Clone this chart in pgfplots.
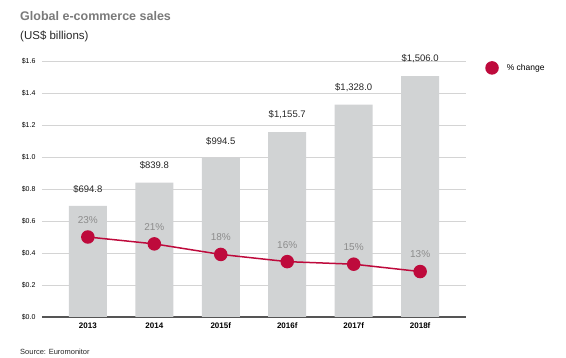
\documentclass[border=0pt]{standalone}
\usepackage{pgfplots}
\pgfplotsset{compat=1.18}
\usepackage{fontspec}
\setmainfont{Liberation Sans}
\definecolor{crim}{HTML}{BE0A3C}
\definecolor{bargray}{HTML}{D1D3D4}
\definecolor{titlegray}{HTML}{7A7A7A}
\definecolor{pctgray}{HTML}{8C8C8C}
\definecolor{gridgray}{HTML}{D4D4D4}
\definecolor{axisdark}{HTML}{555555}
\begin{document}
\begin{tikzpicture}[x=1pt,y=1pt]
\path (0,0) rectangle (566,358);
\node[anchor=base west, inner sep=0pt, font=\bfseries\fontsize{12.5}{14}\selectfont, text=titlegray] at (20,337) {Global e-commerce sales};
\node[anchor=base west, inner sep=0pt, font=\fontsize{11.5}{13}\selectfont, text=black!85] at (20,318) {(US\$ billions)};
\node[anchor=base west, inner sep=0pt, font=\fontsize{7.5}{9}\selectfont, text=black!85] at (20,3) {Source: Euromonitor};
\begin{axis}[
  at={(42pt,41pt)}, anchor=south west,
  scale only axis, width=424pt, height=256pt,
  xmin=-0.69, xmax=5.69, ymin=0, ymax=1.6,
  xtick={0,1,2,3,4,5},
  xticklabels={2013,2014,2015f,2016f,2017f,2018f},
  ytick={0,0.2,0.4,0.6,0.8,1.0,1.2,1.4,1.6},
  yticklabel={\$\pgfmathprintnumber[fixed,fixed zerofill,precision=1]{\tick}},
  /pgf/number format/assume math mode=true,
  major tick length=0pt,
  axis x line*=bottom, axis y line*=left,
  x axis line style={draw=axisdark, line width=1.5pt},
  y axis line style={draw=none},
  ymajorgrids, grid style={gridgray, line width=0.6pt},
  xticklabel style={font=\bfseries\fontsize{8}{9}\selectfont, yshift=-2pt},
  yticklabel style={font=\fontsize{7}{8}\selectfont, xshift=-3pt},
  legend style={at={(1.045,0.973)}, anchor=west, draw=none, fill=none, font=\fontsize{8.5}{10}\selectfont, inner sep=0pt},
  clip=false,
]
\addplot[ybar, bar width=38pt, fill=bargray, draw=none, forget plot,
  point meta=explicit symbolic,
  nodes near coords={\$\pgfplotspointmeta},
  every node near coord/.style={anchor=center, yshift=17pt, font=\fontsize{9.5}{11}\selectfont, text=black!85}]
  table[meta=lab] {
x y lab
0 0.6948 694.8
1 0.8398 839.8
2 0.9945 994.5
3 1.1557 1,155.7
4 1.3280 1,328.0
5 1.5060 1,506.0
};
\addplot[crim, line width=1.5pt, mark=*, mark size=6pt, mark options={fill=crim, draw=crim},
  point meta=explicit symbolic,
  nodes near coords={\pgfplotspointmeta\%},
  every node near coord/.style={anchor=center, yshift=17pt, font=\fontsize{10}{11}\selectfont, text=pctgray},
  legend image code/.code={\fill[crim] (0pt,0pt) circle (6pt);}]
  table[meta=lab] {
x y lab
0 0.500 23
1 0.457 21
2 0.391 18
3 0.346 16
4 0.330 15
5 0.284 13
};
\addlegendentry{\hspace{6pt}\% change}
\end{axis}
\end{tikzpicture}
\end{document}
